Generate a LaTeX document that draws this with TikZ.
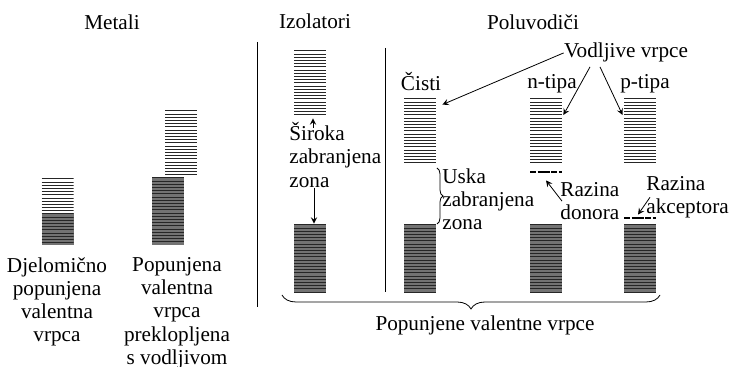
\documentclass[tikz,border=0pt]{standalone}
\usepackage{fontspec}
\setmainfont{Liberation Serif}
\usetikzlibrary{calc,decorations.pathreplacing}

\begin{document}
\begin{tikzpicture}
          [x=0.5pt,y=-0.5pt,
          font=\fontsize{10.6}{11.6}\selectfont,
          txt/.style={inner sep=0pt},
          band/.style={minimum width=16pt,inner sep=0pt,
            path picture={\foreach \k in {0,...,40}
              \draw[black!85,line width=0.45pt]
                ([yshift=-0.4pt-\k*1.6pt]path picture bounding box.north west) --
                ([yshift=-0.4pt-\k*1.6pt]path picture bounding box.north east);}},
          full/.style={band,fill=black!55},
          level/.style={minimum width=16pt,minimum height=2pt,inner sep=0pt,
            path picture={\draw[line width=1pt,dash pattern=on 3pt off 0.8pt on 6pt off 0.8pt]
              (path picture bounding box.west) -- (path picture bounding box.east);}},
          arc/.style={->,>=stealth,thin},
          brace/.style={decorate,decoration={brace,amplitude=#1},thin}]

          \useasboundingbox (0,0) rectangle (729,367);

          % titles
          \node (metali) [txt,anchor=base] at (112,30) {Metali};
          \node (izol) [txt,anchor=base] at (315,29) {Izolatori};
          \node (polu) [txt,anchor=base] at (533,30) {Poluvodiči};

          \draw[thin] (257,42) -- (257,307);
          \draw[thin] (385,48) -- (385,292);

          % metali
          \node (m1E) [band,minimum height=17.5pt] at (57.5,195.5) {};
          \node (m1F) [full,minimum height=16pt] at (57.5,229) {};
          \node (m2F) [full,minimum height=34pt] at (168,211) {};
          \node (m2E) [band,minimum height=34pt] at (181,144) {};
          \node (m1txt) [txt,align=center,anchor=north] at (57,257)
            {Djelomično\\popunjena\\valentna\\vrpca};
          \node (m2txt) [txt,align=center,anchor=north] at (177,257)
            {Popunjena\\valentna\\vrpca\\preklopljena\\s vodljivom};

          % izolatori
          \node (izE) [band,minimum height=34pt] at (310,84) {};
          \node (izF) [full,minimum height=34.5pt] at (310,258.5) {};
          \node (sir) [txt,align=left,anchor=north west] at (289,122)
            {Široka\\zabranjena\\zona};
          \draw [arc] ([xshift=1.5pt,yshift=-3pt]izE.south |- sir.north) -- ([xshift=1.5pt]izE.south);
          \draw [arc] ([xshift=2pt]izF.north |- sir.south) -- ([xshift=2pt]izF.north);

          % poluvodici
          \node (cE) [band,minimum height=34pt] at (420,132) {};
          \node (cF) [full,minimum height=34.5pt] at (420,258.5) {};
          \node (nE) [band,minimum height=34pt] at (546,132) {};
          \node (nF) [full,minimum height=34.5pt] at (546,258.5) {};
          \node (pE) [band,minimum height=34pt] at (640,132) {};
          \node (pF) [full,minimum height=34.5pt] at (640,258.5) {};
          \node (don) [level] at (546,172) {};
          \node (acc) [level] at (640,218) {};

          \node (cisti) [txt,anchor=base] at (421,91) {Čisti};
          \node (ntip) [txt,anchor=base] at (552,89) {n-tipa};
          \node (ptip) [txt,anchor=base] at (645,89) {p-tipa};
          \node (vod) [txt,anchor=base] at (626,58) {Vodljive vrpce};

          \draw [arc] (vod.west) -- ($(cE.north east)+(6,7)$);
          \draw [arc] ($(vod.south)+(-36,4)$) -- ($(nE.east)+(1,-17)$);
          \draw [arc] ($(vod.south)+(-26,4)$) -- ($(pE.west)+(-1,-17)$);

          \draw [brace=3pt] (437,168) -- (437,224);
          \node (uska) [txt,align=left,anchor=north west] at (442,168)
            {Uska\\zabranjena\\zona};

          \node (razD) [txt,align=left,anchor=north west] at (560,182)
            {Razina\\donora};
          \node (razA) [txt,align=left,anchor=north west] at (646,176)
            {Razina\\akceptora};
          \draw [arc] ($(razD.west)+(2,0)$) -- ([yshift=-3pt]don.south);
          \draw [arc] ($(razA.west)+(4,0)$) -- ($(acc.north)+(-2,-1)$);

          \draw [brace=7pt] (660,295) -- (282,295);
          \node (popv) [txt,anchor=base] at (485,331) {Popunjene valentne vrpce};

        \end{tikzpicture}
\end{document}
